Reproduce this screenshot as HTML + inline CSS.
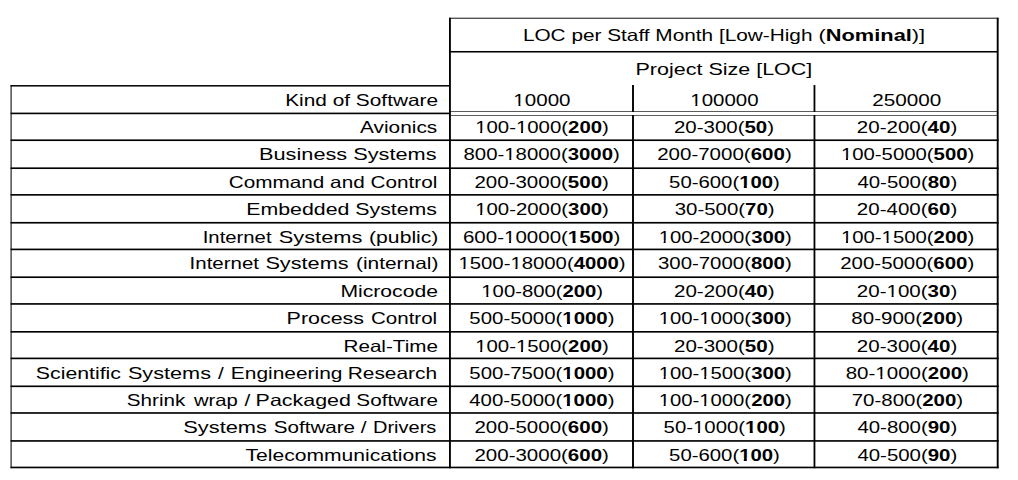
<!DOCTYPE html>
<html><head><meta charset="utf-8"><style>
html,body{margin:0;padding:0;background:#fff;}
body{width:1018px;height:480px;overflow:hidden;}
svg{display:block;}
text{font-family:"Liberation Sans",Arial,Helvetica,sans-serif;font-size:16.5px;fill:#000;}
</style></head><body>
<svg width="1018" height="480" viewBox="0 0 1018 480">
<rect width="1018" height="480" fill="#fff"/>
<rect x="449.05" y="17.73" width="549.59" height="0.94" fill="#000"/>
<rect x="449.95" y="50.98" width="547.74" height="1.55" fill="#000"/>
<rect x="10.60" y="85.05" width="439.35" height="1.50" fill="#000"/>
<rect x="449.95" y="111.18" width="547.74" height="0.64" fill="#000"/>
<rect x="449.95" y="115.14" width="547.74" height="0.62" fill="#000"/>
<rect x="10.60" y="112.60" width="439.35" height="1.62" fill="#000"/>
<rect x="10.60" y="139.40" width="988.04" height="1.65" fill="#000"/>
<rect x="10.60" y="167.38" width="988.04" height="1.65" fill="#000"/>
<rect x="10.60" y="194.03" width="988.04" height="1.65" fill="#000"/>
<rect x="10.60" y="221.93" width="988.04" height="1.65" fill="#000"/>
<rect x="10.60" y="248.58" width="988.04" height="1.65" fill="#000"/>
<rect x="10.60" y="276.38" width="988.04" height="1.65" fill="#000"/>
<rect x="10.60" y="303.10" width="988.04" height="1.65" fill="#000"/>
<rect x="10.60" y="331.00" width="988.04" height="1.65" fill="#000"/>
<rect x="10.60" y="357.57" width="988.04" height="1.65" fill="#000"/>
<rect x="10.60" y="385.48" width="988.04" height="1.65" fill="#000"/>
<rect x="10.60" y="412.16" width="988.04" height="1.65" fill="#000"/>
<rect x="10.60" y="440.11" width="988.04" height="1.65" fill="#000"/>
<rect x="10.60" y="466.63" width="988.04" height="1.65" fill="#000"/>
<rect x="10.58" y="85.04" width="1.03" height="383.22" fill="#000"/>
<rect x="449.02" y="17.80" width="1.85" height="450.46" fill="#000"/>
<rect x="996.74" y="17.80" width="1.90" height="450.46" fill="#000"/>
<rect x="632.05" y="85.00" width="1.90" height="26.85" fill="#000"/>
<rect x="632.05" y="115.10" width="1.90" height="353.16" fill="#000"/>
<rect x="813.56" y="85.00" width="1.80" height="26.85" fill="#000"/>
<rect x="813.56" y="115.10" width="1.80" height="353.16" fill="#000"/>
<text x="522.90" y="41.00" textLength="289.55" lengthAdjust="spacingAndGlyphs">LOC per Staff Month [Low-High</text>
<text x="818.55" y="41.00" textLength="106.61" lengthAdjust="spacingAndGlyphs">(<tspan font-weight="bold">Nominal</tspan>)]</text>
<text x="635.54" y="74.90" textLength="176.80" lengthAdjust="spacingAndGlyphs">Project Size [LOC]</text>
<text x="285.19" y="106.20" textLength="152.94" lengthAdjust="spacingAndGlyphs">Kind of Software</text>
<text x="513.39" y="105.85" textLength="57.12" lengthAdjust="spacingAndGlyphs">10000</text>
<text x="690.34" y="105.85" textLength="68.26" lengthAdjust="spacingAndGlyphs">100000</text>
<text x="872.26" y="105.85" textLength="69.05" lengthAdjust="spacingAndGlyphs">250000</text>
<text x="360.06" y="132.80" textLength="77.19" lengthAdjust="spacingAndGlyphs">Avionics</text>
<text x="475.20" y="132.80" textLength="133.67" lengthAdjust="spacingAndGlyphs">100-1000(<tspan font-weight="bold">200</tspan>)</text>
<text x="673.97" y="132.80" textLength="100.10" lengthAdjust="spacingAndGlyphs">20-300(<tspan font-weight="bold">50</tspan>)</text>
<text x="856.87" y="132.80" textLength="100.40" lengthAdjust="spacingAndGlyphs">20-200(<tspan font-weight="bold">40</tspan>)</text>
<text x="259.02" y="160.10" textLength="177.57" lengthAdjust="spacingAndGlyphs">Business Systems</text>
<text x="463.52" y="160.10" textLength="156.25" lengthAdjust="spacingAndGlyphs">800-18000(<tspan font-weight="bold">3000</tspan>)</text>
<text x="657.17" y="160.10" textLength="134.60" lengthAdjust="spacingAndGlyphs">200-7000(<tspan font-weight="bold">600</tspan>)</text>
<text x="840.95" y="160.10" textLength="133.31" lengthAdjust="spacingAndGlyphs">100-5000(<tspan font-weight="bold">500</tspan>)</text>
<text x="228.75" y="188.10" textLength="208.54" lengthAdjust="spacingAndGlyphs">Command and Control</text>
<text x="474.47" y="188.10" textLength="134.40" lengthAdjust="spacingAndGlyphs">200-3000(<tspan font-weight="bold">500</tspan>)</text>
<text x="669.09" y="188.10" textLength="110.77" lengthAdjust="spacingAndGlyphs">50-600(<tspan font-weight="bold">100</tspan>)</text>
<text x="857.43" y="188.10" textLength="99.83" lengthAdjust="spacingAndGlyphs">40-500(<tspan font-weight="bold">80</tspan>)</text>
<text x="246.25" y="215.10" textLength="190.72" lengthAdjust="spacingAndGlyphs">Embedded Systems</text>
<text x="475.20" y="215.10" textLength="133.67" lengthAdjust="spacingAndGlyphs">100-2000(<tspan font-weight="bold">300</tspan>)</text>
<text x="674.72" y="215.10" textLength="99.84" lengthAdjust="spacingAndGlyphs">30-500(<tspan font-weight="bold">70</tspan>)</text>
<text x="856.87" y="215.10" textLength="100.40" lengthAdjust="spacingAndGlyphs">20-400(<tspan font-weight="bold">60</tspan>)</text>
<text x="202.73" y="242.60" textLength="68.82" lengthAdjust="spacingAndGlyphs">Internet</text>
<text x="278.71" y="242.60" textLength="83.68" lengthAdjust="spacingAndGlyphs">Systems</text>
<text x="369.09" y="242.60" textLength="69.32" lengthAdjust="spacingAndGlyphs">(public)</text>
<text x="462.96" y="242.60" textLength="157.41" lengthAdjust="spacingAndGlyphs">600-10000(<tspan font-weight="bold">1500</tspan>)</text>
<text x="658.65" y="242.60" textLength="133.10" lengthAdjust="spacingAndGlyphs">100-2000(<tspan font-weight="bold">300</tspan>)</text>
<text x="840.95" y="242.60" textLength="133.31" lengthAdjust="spacingAndGlyphs">100-1500(<tspan font-weight="bold">200</tspan>)</text>
<text x="189.61" y="269.40" textLength="69.44" lengthAdjust="spacingAndGlyphs">Internet</text>
<text x="265.41" y="269.40" textLength="83.17" lengthAdjust="spacingAndGlyphs">Systems</text>
<text x="356.01" y="269.40" textLength="82.39" lengthAdjust="spacingAndGlyphs">(internal)</text>
<text x="458.45" y="269.40" textLength="167.21" lengthAdjust="spacingAndGlyphs">1500-18000(<tspan font-weight="bold">4000</tspan>)</text>
<text x="657.97" y="269.40" textLength="133.79" lengthAdjust="spacingAndGlyphs">300-7000(<tspan font-weight="bold">800</tspan>)</text>
<text x="840.27" y="269.40" textLength="133.99" lengthAdjust="spacingAndGlyphs">200-5000(<tspan font-weight="bold">600</tspan>)</text>
<text x="340.47" y="296.90" textLength="97.47" lengthAdjust="spacingAndGlyphs">Microcode</text>
<text x="481.35" y="296.90" textLength="121.80" lengthAdjust="spacingAndGlyphs">100-800(<tspan font-weight="bold">200</tspan>)</text>
<text x="673.97" y="296.90" textLength="100.61" lengthAdjust="spacingAndGlyphs">20-200(<tspan font-weight="bold">40</tspan>)</text>
<text x="856.87" y="296.90" textLength="100.40" lengthAdjust="spacingAndGlyphs">20-100(<tspan font-weight="bold">30</tspan>)</text>
<text x="286.64" y="324.40" textLength="77.43" lengthAdjust="spacingAndGlyphs">Process</text>
<text x="370.96" y="324.40" textLength="66.22" lengthAdjust="spacingAndGlyphs">Control</text>
<text x="469.38" y="324.40" textLength="145.08" lengthAdjust="spacingAndGlyphs">500-5000(<tspan font-weight="bold">1000</tspan>)</text>
<text x="658.65" y="324.40" textLength="133.10" lengthAdjust="spacingAndGlyphs">100-1000(<tspan font-weight="bold">300</tspan>)</text>
<text x="851.31" y="324.40" textLength="111.87" lengthAdjust="spacingAndGlyphs">80-900(<tspan font-weight="bold">200</tspan>)</text>
<text x="343.52" y="351.60" textLength="94.39" lengthAdjust="spacingAndGlyphs">Real-Time</text>
<text x="475.20" y="351.60" textLength="133.67" lengthAdjust="spacingAndGlyphs">100-1500(<tspan font-weight="bold">200</tspan>)</text>
<text x="673.97" y="351.60" textLength="100.61" lengthAdjust="spacingAndGlyphs">20-300(<tspan font-weight="bold">50</tspan>)</text>
<text x="856.87" y="351.60" textLength="100.40" lengthAdjust="spacingAndGlyphs">20-300(<tspan font-weight="bold">40</tspan>)</text>
<text x="35.83" y="378.50" textLength="85.13" lengthAdjust="spacingAndGlyphs">Scientific</text>
<text x="127.92" y="378.50" textLength="83.07" lengthAdjust="spacingAndGlyphs">Systems</text>
<text x="217.96" y="378.50" textLength="5.78" lengthAdjust="spacingAndGlyphs">/</text>
<text x="230.89" y="378.50" textLength="111.56" lengthAdjust="spacingAndGlyphs">Engineering</text>
<text x="347.69" y="378.50" textLength="89.37" lengthAdjust="spacingAndGlyphs">Research</text>
<text x="469.38" y="378.50" textLength="145.08" lengthAdjust="spacingAndGlyphs">500-7500(<tspan font-weight="bold">1000</tspan>)</text>
<text x="658.65" y="378.50" textLength="133.10" lengthAdjust="spacingAndGlyphs">100-1500(<tspan font-weight="bold">300</tspan>)</text>
<text x="845.71" y="378.50" textLength="123.27" lengthAdjust="spacingAndGlyphs">80-1000(<tspan font-weight="bold">200</tspan>)</text>
<text x="126.86" y="405.70" textLength="58.51" lengthAdjust="spacingAndGlyphs">Shrink</text>
<text x="193.93" y="405.70" textLength="43.82" lengthAdjust="spacingAndGlyphs">wrap</text>
<text x="244.41" y="405.70" textLength="5.78" lengthAdjust="spacingAndGlyphs">/</text>
<text x="255.64" y="405.70" textLength="95.24" lengthAdjust="spacingAndGlyphs">Packaged</text>
<text x="356.36" y="405.70" textLength="81.56" lengthAdjust="spacingAndGlyphs">Software</text>
<text x="469.23" y="405.70" textLength="145.23" lengthAdjust="spacingAndGlyphs">400-5000(<tspan font-weight="bold">1000</tspan>)</text>
<text x="658.65" y="405.70" textLength="133.10" lengthAdjust="spacingAndGlyphs">100-1000(<tspan font-weight="bold">200</tspan>)</text>
<text x="851.75" y="405.70" textLength="111.42" lengthAdjust="spacingAndGlyphs">70-800(<tspan font-weight="bold">200</tspan>)</text>
<text x="183.31" y="433.10" textLength="83.68" lengthAdjust="spacingAndGlyphs">Systems</text>
<text x="273.76" y="433.10" textLength="81.35" lengthAdjust="spacingAndGlyphs">Software</text>
<text x="360.71" y="433.10" textLength="5.78" lengthAdjust="spacingAndGlyphs">/</text>
<text x="372.96" y="433.10" textLength="63.36" lengthAdjust="spacingAndGlyphs">Drivers</text>
<text x="474.47" y="433.10" textLength="134.40" lengthAdjust="spacingAndGlyphs">200-5000(<tspan font-weight="bold">600</tspan>)</text>
<text x="663.58" y="433.10" textLength="122.28" lengthAdjust="spacingAndGlyphs">50-1000(<tspan font-weight="bold">100</tspan>)</text>
<text x="857.43" y="433.10" textLength="99.83" lengthAdjust="spacingAndGlyphs">40-800(<tspan font-weight="bold">90</tspan>)</text>
<text x="245.53" y="460.60" textLength="191.02" lengthAdjust="spacingAndGlyphs">Telecommunications</text>
<text x="474.47" y="460.60" textLength="134.40" lengthAdjust="spacingAndGlyphs">200-3000(<tspan font-weight="bold">600</tspan>)</text>
<text x="669.09" y="460.60" textLength="110.77" lengthAdjust="spacingAndGlyphs">50-600(<tspan font-weight="bold">100</tspan>)</text>
<text x="857.43" y="460.60" textLength="99.83" lengthAdjust="spacingAndGlyphs">40-500(<tspan font-weight="bold">90</tspan>)</text>
<rect x="514.35" y="103.62" width="4.08" height="3.03" fill="#fff"/>
<rect x="520.49" y="103.62" width="3.92" height="3.03" fill="#fff"/>
<rect x="691.30" y="103.62" width="4.06" height="3.03" fill="#fff"/>
<rect x="697.41" y="103.62" width="3.91" height="3.03" fill="#fff"/>
<rect x="476.15" y="130.57" width="4.05" height="3.03" fill="#fff"/>
<rect x="482.24" y="130.57" width="3.89" height="3.03" fill="#fff"/>
<rect x="516.93" y="130.57" width="4.05" height="3.03" fill="#fff"/>
<rect x="523.02" y="130.57" width="3.89" height="3.03" fill="#fff"/>
<rect x="505.23" y="157.87" width="4.05" height="3.03" fill="#fff"/>
<rect x="511.31" y="157.87" width="3.89" height="3.03" fill="#fff"/>
<rect x="841.90" y="157.87" width="4.04" height="3.03" fill="#fff"/>
<rect x="847.98" y="157.87" width="3.88" height="3.03" fill="#fff"/>
<rect x="739.85" y="185.42" width="3.94" height="3.48" fill="#fff"/>
<rect x="746.82" y="185.42" width="3.68" height="3.48" fill="#fff"/>
<rect x="476.15" y="212.87" width="4.05" height="3.03" fill="#fff"/>
<rect x="482.24" y="212.87" width="3.89" height="3.03" fill="#fff"/>
<rect x="504.98" y="240.37" width="4.08" height="3.03" fill="#fff"/>
<rect x="511.11" y="240.37" width="3.92" height="3.03" fill="#fff"/>
<rect x="568.59" y="239.92" width="3.98" height="3.48" fill="#fff"/>
<rect x="575.62" y="239.92" width="3.72" height="3.48" fill="#fff"/>
<rect x="659.61" y="240.37" width="4.03" height="3.03" fill="#fff"/>
<rect x="665.67" y="240.37" width="3.87" height="3.03" fill="#fff"/>
<rect x="841.90" y="240.37" width="4.04" height="3.03" fill="#fff"/>
<rect x="847.98" y="240.37" width="3.88" height="3.03" fill="#fff"/>
<rect x="882.57" y="240.37" width="4.04" height="3.03" fill="#fff"/>
<rect x="888.65" y="240.37" width="3.88" height="3.03" fill="#fff"/>
<rect x="459.40" y="267.17" width="4.04" height="3.03" fill="#fff"/>
<rect x="465.48" y="267.17" width="3.88" height="3.03" fill="#fff"/>
<rect x="511.37" y="267.17" width="4.04" height="3.03" fill="#fff"/>
<rect x="517.45" y="267.17" width="3.88" height="3.03" fill="#fff"/>
<rect x="482.31" y="294.67" width="4.03" height="3.03" fill="#fff"/>
<rect x="488.37" y="294.67" width="3.87" height="3.03" fill="#fff"/>
<rect x="887.49" y="294.67" width="4.08" height="3.03" fill="#fff"/>
<rect x="893.63" y="294.67" width="3.92" height="3.03" fill="#fff"/>
<rect x="563.01" y="321.72" width="3.95" height="3.48" fill="#fff"/>
<rect x="570.00" y="321.72" width="3.69" height="3.48" fill="#fff"/>
<rect x="659.61" y="322.17" width="4.03" height="3.03" fill="#fff"/>
<rect x="665.67" y="322.17" width="3.87" height="3.03" fill="#fff"/>
<rect x="700.21" y="322.17" width="4.03" height="3.03" fill="#fff"/>
<rect x="706.28" y="322.17" width="3.87" height="3.03" fill="#fff"/>
<rect x="476.15" y="349.37" width="4.05" height="3.03" fill="#fff"/>
<rect x="482.24" y="349.37" width="3.89" height="3.03" fill="#fff"/>
<rect x="516.93" y="349.37" width="4.05" height="3.03" fill="#fff"/>
<rect x="523.02" y="349.37" width="3.89" height="3.03" fill="#fff"/>
<rect x="563.01" y="375.82" width="3.95" height="3.48" fill="#fff"/>
<rect x="570.00" y="375.82" width="3.69" height="3.48" fill="#fff"/>
<rect x="659.61" y="376.27" width="4.03" height="3.03" fill="#fff"/>
<rect x="665.67" y="376.27" width="3.87" height="3.03" fill="#fff"/>
<rect x="700.21" y="376.27" width="4.03" height="3.03" fill="#fff"/>
<rect x="706.28" y="376.27" width="3.87" height="3.03" fill="#fff"/>
<rect x="876.34" y="376.27" width="4.08" height="3.03" fill="#fff"/>
<rect x="882.48" y="376.27" width="3.92" height="3.03" fill="#fff"/>
<rect x="562.96" y="403.02" width="3.96" height="3.48" fill="#fff"/>
<rect x="569.95" y="403.02" width="3.70" height="3.48" fill="#fff"/>
<rect x="659.61" y="403.47" width="4.03" height="3.03" fill="#fff"/>
<rect x="665.67" y="403.47" width="3.87" height="3.03" fill="#fff"/>
<rect x="700.21" y="403.47" width="4.03" height="3.03" fill="#fff"/>
<rect x="706.28" y="403.47" width="3.87" height="3.03" fill="#fff"/>
<rect x="693.97" y="430.87" width="4.05" height="3.03" fill="#fff"/>
<rect x="700.06" y="430.87" width="3.89" height="3.03" fill="#fff"/>
<rect x="745.79" y="430.42" width="3.95" height="3.48" fill="#fff"/>
<rect x="752.77" y="430.42" width="3.69" height="3.48" fill="#fff"/>
<rect x="739.85" y="457.92" width="3.94" height="3.48" fill="#fff"/>
<rect x="746.82" y="457.92" width="3.68" height="3.48" fill="#fff"/>
</svg>
</body></html>
